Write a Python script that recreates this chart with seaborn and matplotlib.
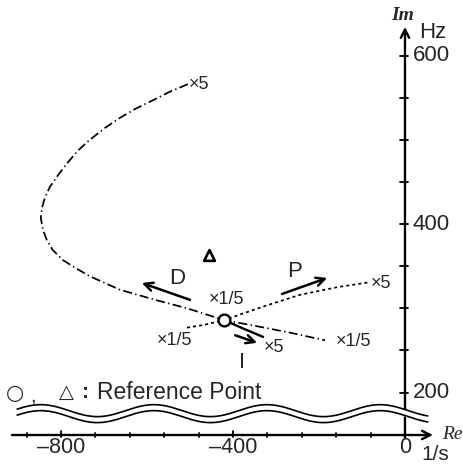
import numpy as np
import pandas as pd
import matplotlib
matplotlib.use("Agg")
import matplotlib.pyplot as plt
import seaborn as sns

# Root loci of the dominant pole (Re in 1/s, Im in Hz) while one gain is
# scaled from x1/5 to x5 about the nominal design point.
d_re = [-505, -547, -586, -626, -663, -698, -733, -761, -786, -807, -826, -837,
        -844, -847, -842, -833, -819, -795, -767, -733, -698, -663, -581, -507,
        -421, -337, -267, -186]
d_im = [566, 557, 547, 537, 526, 514, 500, 487, 472, 458, 444, 432,
        420, 407, 393, 381, 369, 357, 348, 338, 330, 322, 310, 300,
        286, 278, 271, 262]

p_re = [-507, -470, -421, -330, -244, -158, -81]
p_im = [277, 280, 286, 302, 316, 325, 331]

i_re = [-421, -372, -330]
i_im = [286, 275, 266]

# Reference points
ref_circle = (-421, 286)
ref_triangle = (-456, 363)

# Axis ticks
x_ticks = [-880, -800, -720, -640, -560, -480, -400, -320, -240, -160, -80, 0]
x_major = [-800, -400, 0]
x_labels = ["\u2013800", "\u2013400", "0"]
y_ticks = [200, 250, 300, 350, 400, 450, 500, 550, 600]
y_major = [200, 400, 600]
y_labels = ["200", "400", "600"]

sns.set_theme(style="white")
plt.rcParams["font.family"] = ["Liberation Sans", "DejaVu Sans"]
plt.rcParams["lines.scale_dashes"] = False

fig = plt.figure(figsize=(4.63, 4.66), dpi=100)
ax = fig.add_axes([0, 0, 1, 1])
ax.set_xlim(-941.9, 134.9)
ax.set_ylim(112.8, 665.9)
ax.axis("off")

AX_Y = 149.6      # where the (broken) real axis is drawn
AX_X = 0.0
sx = 1 / 0.43     # data units per pixel, horizontal
sy = 1 / 0.8425   # data units per pixel, vertical

# --- loci ---
loci = pd.concat([
    pd.DataFrame({"re": d_re, "im": d_im, "gain": "D"}),
    pd.DataFrame({"re": p_re, "im": p_im, "gain": "P"}),
    pd.DataFrame({"re": i_re, "im": i_im, "gain": "I"}),
])
styles = {"D": dict(lw=1.25, linestyle=(0, (6.5, 2.4, 1.0, 2.4))),
          "P": dict(lw=1.25, linestyle=(0, (2.2, 2.2))),
          "I": dict(lw=1.7, linestyle="-")}
for g, sub in loci.groupby("gain"):
    sns.lineplot(data=sub, x="re", y="im", sort=False, estimator=None,
                 color="black", ax=ax, **styles[g])

# direction arrows
arrow_kw = dict(arrowstyle="->,head_length=0.5,head_width=0.25", lw=1.8,
                color="black", shrinkA=0, shrinkB=0, mutation_scale=12)
ax.annotate("", xy=(-612, 330), xytext=(-500, 310), arrowprops=arrow_kw)
ax.annotate("", xy=(-181, 336), xytext=(-286, 317), arrowprops=arrow_kw)
ax.annotate("", xy=(-344, 259), xytext=(-395, 268), arrowprops=arrow_kw)

ax.text(-530, 335, "D", fontsize=16, ha="center", va="center")
ax.text(-256, 344, "P", fontsize=16, ha="center", va="center")
ax.text(-379, 236, "I", fontsize=16, ha="center", va="center")

lab = dict(fontsize=13, va="center")
ax.text(-504, 566, "\u00d75", ha="left", **lab)
ax.text(-162, 261, "\u00d71/5", ha="left", **lab)
ax.text(-80, 329, "\u00d75", ha="left", **lab)
ax.text(-414, 310, "\u00d71/5", ha="center", **lab)
ax.text(-535, 262, "\u00d71/5", ha="center", **lab)
ax.text(-305, 253, "\u00d75", ha="center", **lab)

# reference points
sns.scatterplot(x=[ref_circle[0]], y=[ref_circle[1]], marker="o", s=72,
                facecolor="white", edgecolor="black", linewidth=1.7, ax=ax,
                zorder=5)
sns.scatterplot(x=[ref_triangle[0]], y=[ref_triangle[1]], marker="^", s=60,
                facecolor="white", edgecolor="black", linewidth=1.9, ax=ax,
                zorder=5)

# --- axes ---
axis_arrow = dict(arrowstyle="->,head_length=0.5,head_width=0.25", lw=1.7,
                  color="black", shrinkA=0, shrinkB=0, mutation_scale=12)
ax.annotate("", xy=(65, AX_Y), xytext=(-914, AX_Y), arrowprops=axis_arrow)
ax.annotate("", xy=(AX_X, 634), xytext=(AX_X, AX_Y - 3 * sy),
            arrowprops=axis_arrow)

for xt in x_ticks:
    h = 4 if xt in x_major else 2
    ax.plot([xt, xt], [AX_Y - 2 * sy, AX_Y + h * sy], color="black", lw=1.3)
for xt, lbl in zip(x_major, x_labels):
    ax.text(xt, 135, lbl, fontsize=15.5, ha="center", va="center")

for yt in y_ticks:
    ax.plot([AX_X - 4.5 * sx, AX_X + 3.5 * sx], [yt, yt], color="black", lw=1.3)
for yt, lbl in zip(y_major, y_labels):
    ax.text(AX_X + 7.5 * sx, yt, lbl, fontsize=16, ha="left", va="center")

ax.text(AX_X - 2 * sx, 648, "Im", fontsize=14, ha="center", va="center",
        family="Liberation Serif", style="italic", fontweight="bold")
ax.text(AX_X + 14 * sx, 627, "Hz", fontsize=16, ha="left", va="center")
ax.text(110, AX_Y, "Re", fontsize=14, ha="center", va="center",
        family="Liberation Serif", style="italic")
ax.text(70, 126, "1/s", fontsize=15, ha="center", va="center")

# axis-break symbol (two parallel wavy lines)
wx = np.linspace(-902, 53, 400)
wave = 7.1 * np.cos(2 * np.pi * (wx + 321) / 263)
upper = 178.5 + wave
lower = 171.4 + wave
ax.fill_between(wx, lower, upper, color="white", zorder=3)
ax.plot(wx, upper, color="black", lw=1.2, zorder=4)
ax.plot(wx, lower, color="black", lw=1.2, zorder=4)

# legend line for the reference markers
ax.text(-906, 200, "\u25cb", fontsize=15, ha="center", va="center",
        family="DejaVu Sans")
ax.text(-866, 196, ",", fontsize=15, ha="center", va="center")
ax.text(-788, 200, "\u25b3", fontsize=14, ha="center", va="center",
        family="DejaVu Sans")
ax.text(-744, 200, ":", fontsize=15, ha="center", va="center",
        fontweight="bold")
ax.text(-717, 200, "Reference Point", fontsize=16.5, ha="left", va="center")

fig.savefig("out.png", dpi=100)
